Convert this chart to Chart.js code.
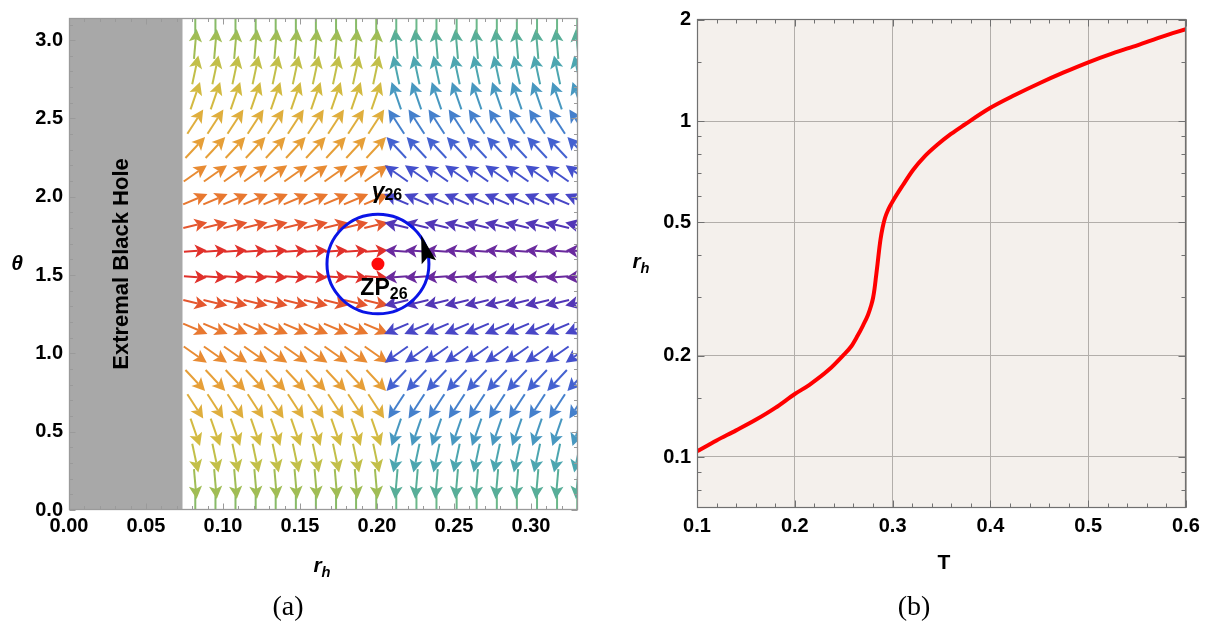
<!DOCTYPE html>
<html><head><meta charset="utf-8">
<script src="https://cdn.jsdelivr.net/npm/chart.js@4.4.0/dist/chart.umd.min.js"></script>
<style>
html,body{margin:0;padding:0;background:#fff;width:1216px;height:628px;overflow:hidden;font-family:"Liberation Sans",Arial,sans-serif;}
#wrapA{position:absolute;left:0;top:0;width:600px;height:628px;}
#wrapB{position:absolute;left:610px;top:0;width:606px;height:628px;}
.lbl{position:absolute;font-weight:bold;color:#000;white-space:nowrap;transform:translate(-50%,-50%);line-height:1;}
.it{font-style:italic;}
.cap{position:absolute;font-family:"Liberation Serif","DejaVu Serif",serif;font-size:28px;transform:translate(-50%,-50%);line-height:1;color:#000;}
sub{font-size:70%;vertical-align:-0.3em;}
</style></head><body>
<div id="wrapA"><canvas id="cA" width="600" height="628"></canvas></div>
<div id="wrapB"><canvas id="cB" width="606" height="628"></canvas></div>
<div class="lbl it" style="left:17px;top:262px;font-size:21px;">θ</div>
<div class="lbl it" style="left:322px;top:567px;font-size:21px;">r<sub>h</sub></div>
<div class="cap" style="left:288px;top:606px;">(a)</div>
<div class="lbl it" style="left:641px;top:263px;font-size:21px;">r<sub>h</sub></div>
<div class="lbl" style="left:944px;top:561px;font-size:21px;">T</div>
<div class="cap" style="left:914px;top:606px;">(b)</div>
<script>
// ---------------- DATA: panel (a) vector field ----------------
const rSamples = [0.0820,0.0951,0.1081,0.1212,0.1342,0.1473,0.1603,0.1734,0.1864,0.1995,
                  0.2125,0.2256,0.2386,0.2517,0.2647,0.2778,0.2908,0.3039,0.3169,0.3300];
const thetaSamples = [0.0000,0.1653,0.3307,0.4960,0.6614,0.8267,0.9921,1.1574,1.3228,1.4881,
                      1.6535,1.8188,1.9842,2.1495,2.3149,2.4802,2.6456,2.8109,2.9762,3.1416];
// arrow tilt (deg, + = towards larger theta) read per row, left of the zero point
const rowAngleDeg = [-90,-85,-78,-71,-57,-47,-35,-23,-13,-4,4,13,23,35,47,57,71,78,85,90];
// relative arrow magnitude per row
const rowMagnitude = [1.0,1.0,0.98,0.97,0.97,0.96,0.94,0.88,0.82,0.76,0.76,0.82,0.88,0.94,0.96,0.97,0.97,0.98,1.0,1.0];
const zeroPointR = 0.2006, zeroPointTheta = 1.5708;
const contourRadiusR = 0.0331, contourRadiusTheta = 0.318;
const extremalR = 0.0737;
const xTicksA = [0,0.05,0.10,0.15,0.20,0.25,0.30];
const yTicksA = [0,0.5,1.0,1.5,2.0,2.5,3.0];
const xRangeA = [0,0.3305], yRangeA = [0,3.1416];

// ---------------- DATA: panel (b) r_h vs T ----------------
const curveT = [0.100,0.120,0.140,0.160,0.180,0.200,0.215,0.235,0.249,0.258,0.264,0.2697,0.2748,0.2779,0.2800,0.2815,0.2830,0.2846,0.2861,0.2877,0.2897,0.2922,0.2958,0.3003,0.3106,0.3209,0.3321,0.3454,0.3597,0.373,0.3996,0.425,0.4507,0.475,0.5008,0.525,0.5509,0.575,0.600];
const curveR = [0.104,0.112,0.120,0.129,0.140,0.154,0.164,0.182,0.200,0.214,0.229,0.2462,0.2647,0.2814,0.2973,0.3162,0.3433,0.3753,0.4103,0.4454,0.4803,0.5145,0.5470,0.578,0.645,0.715,0.781,0.848,0.915,0.973,1.093,1.195,1.298,1.395,1.498,1.590,1.683,1.780,1.878];
const xTicksB = [0.1,0.2,0.3,0.4,0.5,0.6];
const yTicksB = [0.1,0.2,0.5,1,2];
const yMinorB = [0.08,0.09,0.15,0.3,0.4,0.6,0.7,0.8,0.9,1.5];
const xRangeB = [0.1,0.6], yRangeB = [0.0705,2.012];

// ---------------- styles ----------------
Chart.defaults.font.family = "'Liberation Sans', Arial, sans-serif";
Chart.defaults.animation = false;
const tickFont = {size:20, weight:'bold'};
const rightStops = [[0,'#e0302a'],[4,'#e0302a'],[13,'#e4562e'],[23,'#e87830'],[35,'#e88b33'],[47,'#e69f38'],[57,'#dfae3d'],[71,'#d3ba42'],[78,'#c2bf49'],[85,'#a0bd55'],[90,'#88bb68']];
const leftStops  = [[0,'#6a2a9e'],[4,'#6a2a9e'],[13,'#5236b6'],[23,'#4846c6'],[35,'#4450cc'],[47,'#4462d0'],[57,'#4580cc'],[71,'#4898c0'],[78,'#4ca6b0'],[85,'#58ae98'],[90,'#6cb88a']];
function hex(c){return [parseInt(c.slice(1,3),16),parseInt(c.slice(3,5),16),parseInt(c.slice(5,7),16)];}
function colorAt(stops,a){
  a=Math.abs(a);
  for(let i=1;i<stops.length;i++){
    if(a<=stops[i][0]){
      const [a0,c0]=stops[i-1],[a1,c1]=stops[i];
      const t=(a1===a0)?0:(a-a0)/(a1-a0);
      const p=hex(c0),q=hex(c1);
      return 'rgb('+p.map((v,k)=>Math.round(v+(q[k]-v)*t)).join(',')+')';
    }
  }
  return stops[stops.length-1][1];
}

// vector-field points built from the arrays
const fieldPoints = [];
thetaSamples.forEach((th,i)=>{
  rSamples.forEach(r=>{
    fieldPoints.push({x:r,y:th,ang:rowAngleDeg[i],mag:rowMagnitude[i],dir:(r<zeroPointR?1:-1)});
  });
});

function drawArrow(ctx,cx,cy,ux,uy,L,color){
  const tx=cx+ux*L/2, ty=cy+uy*L/2;
  const sx=cx-ux*L/2, sy=cy-uy*L/2;
  const hl=Math.min(13,L*0.52), hw=6.6;
  const bx=tx-ux*hl, by=ty-uy*hl;
  const nx=-uy, ny=ux;
  ctx.strokeStyle=color; ctx.fillStyle=color; ctx.lineWidth=2;
  ctx.beginPath(); ctx.moveTo(sx,sy); ctx.lineTo(bx+ux*3,by+uy*3); ctx.stroke();
  ctx.beginPath(); ctx.moveTo(tx,ty); ctx.lineTo(bx+nx*hw,by+ny*hw); ctx.lineTo(bx+ux*3,by+uy*3); ctx.lineTo(bx-nx*hw,by-ny*hw); ctx.closePath(); ctx.fill();
}

const fieldPlugin = {
  id:'field',
  beforeDatasetsDraw(chart){
    const {ctx,chartArea:a,scales:{x,y}}=chart;
    ctx.save();
    ctx.beginPath(); ctx.rect(a.left,a.top,a.right-a.left,a.bottom-a.top); ctx.clip();
    const gx=x.getPixelForValue(extremalR);
    ctx.fillStyle='#a8a8a8';
    ctx.fillRect(a.left,a.top,gx-a.left,a.bottom-a.top);
    const baseLen=30;
    chart.data.datasets[0].data.forEach(p=>{
      const cx=x.getPixelForValue(p.x), cy=y.getPixelForValue(p.y);
      const rad=p.ang*Math.PI/180;
      const ux=p.dir*Math.cos(rad), uy=-Math.sin(rad);
      const col=colorAt(p.dir>0?rightStops:leftStops,p.ang);
      drawArrow(ctx,cx,cy,ux,uy,baseLen*p.mag,col);
    });
    ctx.save();
    ctx.translate((a.left+gx)/2-4, y.getPixelForValue(zeroPointTheta));
    ctx.rotate(-Math.PI/2);
    ctx.fillStyle='#000'; ctx.font="bold 22px 'Liberation Sans', Arial, sans-serif";
    ctx.textAlign='center'; ctx.textBaseline='middle';
    ctx.fillText('Extremal Black Hole',0,0);
    ctx.restore();
    ctx.restore();
  },
  afterDatasetsDraw(chart){
    const {ctx,scales:{x,y}}=chart;
    const cx=x.getPixelForValue(zeroPointR), cy=y.getPixelForValue(zeroPointTheta);
    const rx=x.getPixelForValue(zeroPointR+contourRadiusR)-cx;
    const ry=cy-y.getPixelForValue(zeroPointTheta+contourRadiusTheta);
    ctx.save();
    ctx.strokeStyle='#0a14e6'; ctx.lineWidth=3;
    ctx.beginPath(); ctx.ellipse(cx,cy,rx,ry,0,0,Math.PI*2); ctx.stroke();
    const ph=2*Math.PI/180;
    const px=cx+rx*Math.cos(ph), py=cy-ry*Math.sin(ph);
    let tx=-rx*Math.sin(ph), ty=-ry*Math.cos(ph);
    const n=Math.hypot(tx,ty); tx/=n; ty/=n;
    const rot=-14*Math.PI/180, c=Math.cos(rot), s=Math.sin(rot);
    const dx=tx*c-ty*s, dy=tx*s+ty*c;
    const nx=-dy, ny=dx;
    ctx.fillStyle='#000';
    ctx.beginPath();
    ctx.moveTo(px+dx*28,py+dy*28);
    ctx.lineTo(px+nx*7.5,py+ny*7.5);
    ctx.lineTo(px+dx*5,py+dy*5);
    ctx.lineTo(px-nx*7.5,py-ny*7.5);
    ctx.closePath(); ctx.fill();
    ctx.fillStyle='#000'; ctx.textBaseline='middle';
    const gx=x.getPixelForValue(zeroPointR), gy=y.getPixelForValue(zeroPointTheta+0.46);
    ctx.font="italic bold 23px 'Liberation Sans', Arial, sans-serif";
    const w1=ctx.measureText('γ').width;
    ctx.font="bold 16px 'Liberation Sans', Arial, sans-serif";
    const w2=ctx.measureText('26').width;
    let sx=gx-(w1+w2)/2+9;
    ctx.font="italic bold 23px 'Liberation Sans', Arial, sans-serif";
    ctx.textAlign='left'; ctx.fillText('γ',sx,gy);
    ctx.font="bold 16px 'Liberation Sans', Arial, sans-serif";
    ctx.fillText('26',sx+w1,gy+4);
    const zy=y.getPixelForValue(zeroPointTheta-0.16);
    ctx.font="bold 23px 'Liberation Sans', Arial, sans-serif";
    const w3=ctx.measureText('ZP').width;
    ctx.font="bold 16px 'Liberation Sans', Arial, sans-serif";
    const w4=ctx.measureText('26').width;
    sx=gx-(w3+w4)/2+6;
    ctx.font="bold 23px 'Liberation Sans', Arial, sans-serif";
    ctx.fillText('ZP',sx,zy);
    ctx.font="bold 16px 'Liberation Sans', Arial, sans-serif";
    ctx.fillText('26',sx+w3,zy+6);
    ctx.restore();
  }
};

const bgPlugin = {
  id:'plotBg',
  beforeDraw(chart,args,opts){
    if(!opts.color) return;
    const {ctx,chartArea:a}=chart;
    ctx.save(); ctx.fillStyle=opts.color; ctx.fillRect(a.left,a.top,a.right-a.left,a.bottom-a.top); ctx.restore();
  }
};

const framePlugin = {
  id:'frameTicks',
  afterDraw(chart,args,o){
    const {ctx,chartArea:a,scales:{x,y}}=chart;
    ctx.save();
    ctx.strokeStyle=o.color; ctx.lineWidth=1;
    const L=Math.round(a.left)+0.5, R=Math.round(a.right)-0.5, T=Math.round(a.top)+0.5, B=Math.round(a.bottom)-0.5;
    ctx.beginPath();
    const xt=(vals,len)=>vals.forEach(v=>{const px=Math.round(x.getPixelForValue(v))+0.5; if(px<L-1||px>R+1)return; ctx.moveTo(px,B); ctx.lineTo(px,B-len); ctx.moveTo(px,T); ctx.lineTo(px,T+len);});
    const yt=(vals,len)=>vals.forEach(v=>{const py=Math.round(y.getPixelForValue(v))+0.5; if(py<T-1||py>B+1)return; ctx.moveTo(L,py); ctx.lineTo(L+len,py); ctx.moveTo(R,py); ctx.lineTo(R-len,py);});
    xt(o.majorX,o.majorLen); xt(o.minorX,o.minorLen); yt(o.majorY,o.majorLen); yt(o.minorY,o.minorLen);
    ctx.stroke();
    ctx.lineWidth=o.frameWidth||1;
    ctx.strokeRect(L,T,R-L,B-T);
    ctx.restore();
  }
};

function minorBetween(start,end,step,majors){
  const out=[];
  for(let v=start;v<=end+1e-9;v+=step){
    const vv=Math.round(v*1e6)/1e6;
    if(!majors.some(m=>Math.abs(m-vv)<1e-6)) out.push(vv);
  }
  return out;
}

// ---------------- chart (a) ----------------
new Chart(document.getElementById('cA'),{
  type:'scatter',
  data:{datasets:[
    {data:fieldPoints,pointRadius:0,showLine:false},
    {data:[{x:zeroPointR,y:zeroPointTheta}],pointRadius:6.5,pointBackgroundColor:'#ff0a0a',pointBorderWidth:0,showLine:false}
  ]},
  options:{
    responsive:false, devicePixelRatio:1, events:[],
    layout:{padding:{left:0,right:22,top:5,bottom:0}},
    plugins:{legend:{display:false},tooltip:{enabled:false},
      frameTicks:{color:'#9a9a9a',majorLen:6,minorLen:3.5,frameWidth:1.3,
        majorX:xTicksA,minorX:minorBetween(0,0.33,0.01,xTicksA),
        majorY:yTicksA,minorY:minorBetween(0,3.1,0.1,yTicksA)}},
    scales:{
      x:{type:'linear',min:xRangeA[0],max:xRangeA[1],
         afterBuildTicks:s=>{s.ticks=xTicksA.map(v=>({value:v}));},
         afterFit:s=>{s.height=118;},
         grid:{display:false,drawTicks:false},border:{display:false},
         ticks:{font:tickFont,color:'#000',padding:4,maxRotation:0,autoSkip:false,callback:v=>v.toFixed(2)}},
      y:{type:'linear',min:yRangeA[0],max:yRangeA[1],
         afterBuildTicks:s=>{s.ticks=yTicksA.map(v=>({value:v}));},
         afterFit:s=>{s.width=69;},
         grid:{display:false,drawTicks:false},border:{display:false},
         ticks:{font:tickFont,color:'#000',padding:6,autoSkip:false,callback:v=>v.toFixed(1)}}
    }
  },
  plugins:[fieldPlugin,framePlugin]
});

// ---------------- chart (b) ----------------
new Chart(document.getElementById('cB'),{
  type:'line',
  data:{datasets:[{data:curveT.map((t,i)=>({x:t,y:curveR[i]})),borderColor:'#ff0000',borderWidth:4,pointRadius:0,cubicInterpolationMode:'monotone',fill:false,borderJoinStyle:'round',borderCapStyle:'round'}]},
  options:{
    responsive:false, devicePixelRatio:1, events:[],
    layout:{padding:{left:0,right:30,top:19,bottom:0}},
    plugins:{legend:{display:false},tooltip:{enabled:false},
      plotBg:{color:'#f4f0ec'},
      frameTicks:{color:'#707070',majorLen:7,minorLen:4,frameWidth:1.2,
        majorX:xTicksB,minorX:minorBetween(0.1,0.6,0.02,xTicksB),
        majorY:yTicksB,minorY:yMinorB}},
    scales:{
      x:{type:'linear',min:xRangeB[0],max:xRangeB[1],
         afterBuildTicks:s=>{s.ticks=xTicksB.map(v=>({value:v}));},
         afterFit:s=>{s.height=120;},
         grid:{color:'#b2aeaa',lineWidth:1,drawTicks:false},border:{display:false},
         ticks:{font:tickFont,color:'#000',padding:6,maxRotation:0,autoSkip:false,callback:v=>v.toFixed(1)}},
      y:{type:'logarithmic',min:yRangeB[0],max:yRangeB[1],
         afterBuildTicks:s=>{s.ticks=yTicksB.map(v=>({value:v}));},
         afterFit:s=>{s.width=87;},
         grid:{color:'#b2aeaa',lineWidth:1,drawTicks:false},border:{display:false},
         ticks:{font:tickFont,color:'#000',padding:6,autoSkip:false,callback:v=>String(v)}}
    }
  },
  plugins:[bgPlugin,framePlugin]
});
</script>
</body></html>
